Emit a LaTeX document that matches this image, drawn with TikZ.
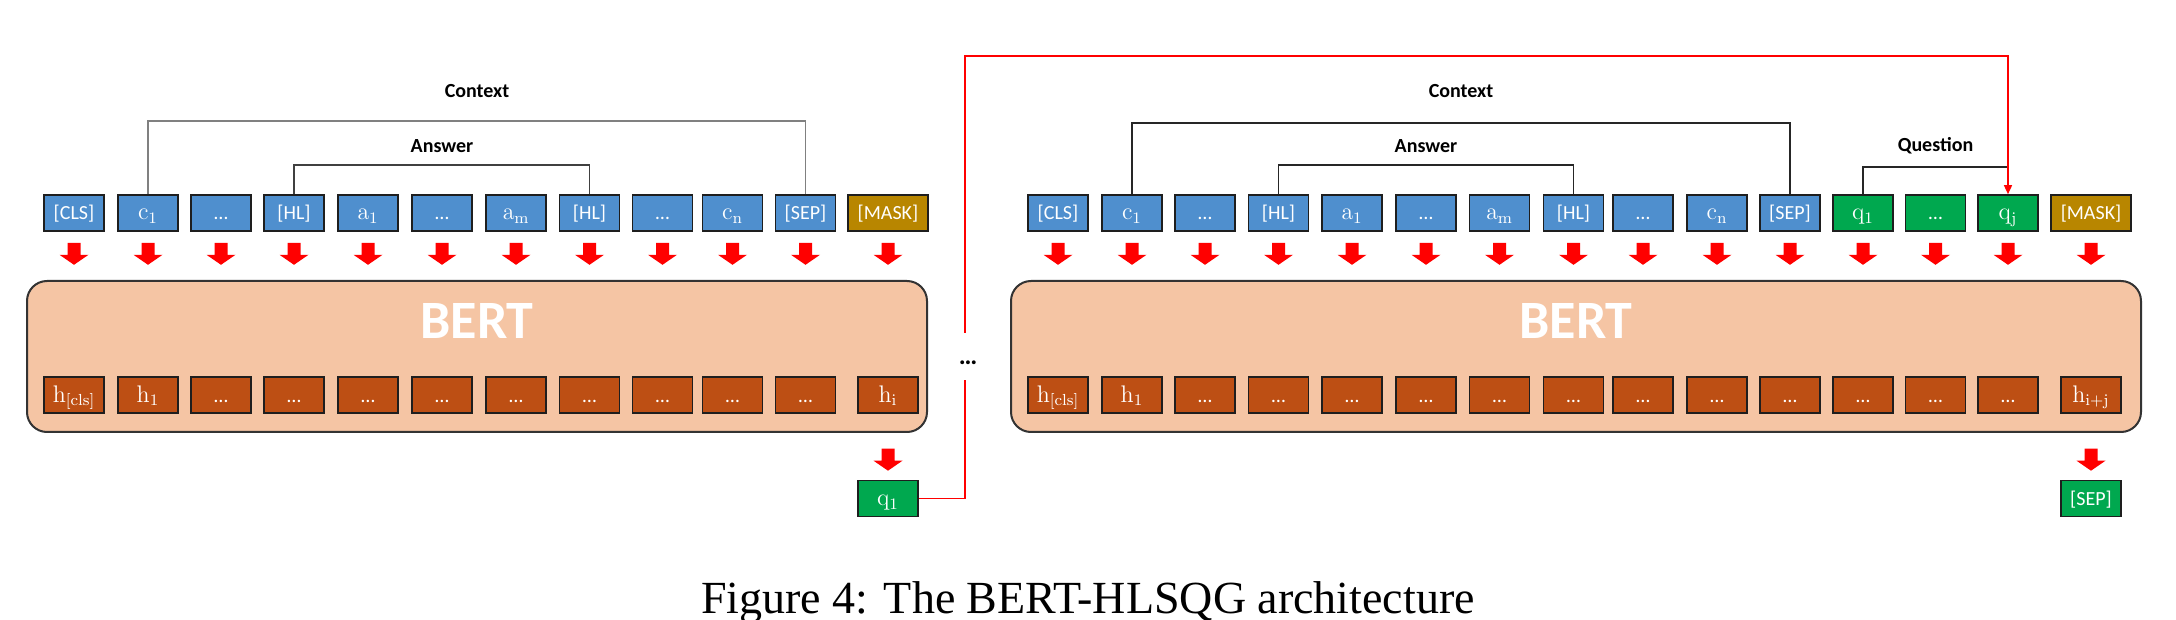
\documentclass[tikz,border=0pt]{standalone}
\usepackage[no-math]{fontspec}
\newfontfamily\calibri{Carlito}
\newfontfamily\timesf{Liberation Serif}
\usetikzlibrary{calc,arrows.meta}
\definecolor{tokblue}{HTML}{4F8FCE}
\definecolor{tokgreen}{HTML}{00A84F}
\definecolor{maskgold}{HTML}{B88600}
\definecolor{hbrown}{HTML}{BD4F14}
\definecolor{bertfill}{HTML}{F5C5A4}
\definecolor{bordc}{HTML}{1E1E1E}
\newcommand\mth[1]{{\fontsize{12}{14}\selectfont$#1$}}
\tikzset{
  tok/.style={draw=bordc, line width=0.8pt, minimum width=30pt, minimum height=18pt,
    inner sep=0pt, text=white, text height=9pt, text depth=2pt,
    font=\calibri\fontsize{10}{12}\selectfont},
  blu/.style={tok, fill=tokblue},
  grn/.style={tok, fill=tokgreen},
  gold/.style={tok, fill=maskgold, minimum width=40pt},
  hbox/.style={tok, fill=hbrown},
  bertbox/.style={draw=black!80, line width=1pt, fill=bertfill, rounded corners=10pt,
    minimum height=75.5pt, inner sep=0pt},
  berttxt/.style={text=white, font=\calibri\bfseries\fontsize{27}{30}\selectfont, inner sep=0pt},
  lbl/.style={font=\calibri\bfseries\fontsize{10}{12}\selectfont, inner sep=0pt},
  brk/.style={line width=0.75pt},
  redl/.style={red, line width=0.75pt},
  downarr/.pic={\fill[red] (-6.5,0) -- (6.5,0) -- (6.5,12) -- (14.5,12) -- (0,22) -- (-14.5,12) -- (-6.5,12) -- cycle;}
}
\begin{document}
\begin{tikzpicture}[x=0.5pt,y=-0.5pt]
\useasboundingbox (0,0) rectangle (2176,620);
% BERT boxes
\node[bertbox, minimum width=450pt] (LB) at (477,356.5) {};
\node[berttxt] (LBt) at (477,320.5) {BERT};
\node[bertbox, minimum width=565pt] (RB) at (1576,356.5) {};
\node[berttxt] (RBt) at (1576,320.5) {BERT};
% left tokens
\foreach \x/\t/\s [count=\i from 0] in {74/{[CLS]}/blu, 148/{\mth{\mathrm{c}_1}}/blu, 221/{…}/blu,
  294/{[HL]}/blu, 368/{\mth{\mathrm{a}_1}}/blu, 442/{…}/blu, 516/{\mth{\mathrm{a}_\mathrm{m}}}/blu,
  589.5/{[HL]}/blu, 662.5/{…}/blu, 732.5/{\mth{\mathrm{c}_\mathrm{n}}}/blu, 805.5/{[SEP]}/blu, 888/{[MASK]}/gold}
  {\node[\s] (L\i) at (\x,213) {\t};
   \pic at ($(L\i.south)+(0,11)$) {downarr};}
% left hidden states
\foreach \x/\t [count=\i from 0] in {74/{\mth{\mathrm{h}_{[\mathrm{cls}]}}}, 148/{\mth{\mathrm{h}_1}}, 221/{…},
  294/{…}, 368/{…}, 442/{…}, 516/{…}, 589.5/{…}, 662.5/{…}, 732.5/{…}, 805.5/{…}, 888/{\mth{\mathrm{h}_\mathrm{i}}}}
  {\node[hbox] (LH\i) at (\x,395) {\t};}
\node[grn] (Lq) at (888,498.5) {\mth{\mathrm{q}_1}};
\pic at ($(Lq.north)+(0,-31)$) {downarr};
% right tokens
\foreach \x/\t/\s [count=\i from 0] in {1058/{[CLS]}/blu, 1132/{\mth{\mathrm{c}_1}}/blu, 1205/{…}/blu,
  1278.5/{[HL]}/blu, 1352/{\mth{\mathrm{a}_1}}/blu, 1426/{…}/blu, 1499.5/{\mth{\mathrm{a}_\mathrm{m}}}/blu,
  1573.5/{[HL]}/blu, 1643/{…}/blu, 1717/{\mth{\mathrm{c}_\mathrm{n}}}/blu, 1790/{[SEP]}/blu,
  1863/{\mth{\mathrm{q}_1}}/grn, 1935.5/{…}/grn, 2008/{\mth{\mathrm{q}_\mathrm{j}}}/grn, 2091/{[MASK]}/gold}
  {\node[\s] (R\i) at (\x,213) {\t};
   \pic at ($(R\i.south)+(0,11)$) {downarr};}
% right hidden states
\foreach \x/\t [count=\i from 0] in {1058/{\mth{\mathrm{h}_{[\mathrm{cls}]}}}, 1132/{\mth{\mathrm{h}_1}}, 1205/{…},
  1278.5/{…}, 1352/{…}, 1426/{…}, 1499.5/{…}, 1573.5/{…}, 1643/{…}, 1717/{…}, 1790/{…},
  1863/{…}, 1935.5/{…}, 2008/{…}, 2091/{\mth{\mathrm{h}_{\mathrm{i+j}}}}}
  {\node[hbox] (RH\i) at (\x,395) {\t};}
\node[grn] (Rs) at (2091,498.5) {[SEP]};
\pic at ($(Rs.north)+(0,-31)$) {downarr};
% brackets left
\draw[brk, black!50] (L1.north) |- ($(L10.north)+(0,-73)$) -- (L10.north);
\node[lbl] (Lctx) at (477,91) {Context};
\draw[brk, black!75] (L3.north) |- ($(L7.north)+(0,-29)$) -- (L7.north);
\node[lbl] (Lans) at (442,146) {Answer};
% brackets right
\draw[brk, black!85] (R1.north) |- ($(R10.north)+(0,-71)$) -- (R10.north);
\node[lbl] (Rctx) at (1461,91) {Context};
\draw[brk, black!85] (R3.north) |- ($(R7.north)+(0,-29)$) -- (R7.north);
\node[lbl] (Rans) at (1426,146) {Answer};
\draw[brk, black!85] (R11.north) |- ($(R13.north)+(0,-27)$);
\node[lbl] (Rq) at (1935.5,146) {Question};
% red feedback connector
\coordinate (gb) at (965,380);
\coordinate (gt) at (965,333);
\draw[redl] (Lq.east) -| (gb);
\draw[redl, -{Triangle[length=4.5pt, width=4pt]}] (gt) |- ($(R13.north)+(0,-138)$) -- (R13.north);
\node[font=\calibri\bfseries\fontsize{13}{15}\selectfont, inner sep=0pt] (dots) at (968,363) {…};
% caption
\node[font=\timesf\fontsize{23}{26}\selectfont, anchor=base, inner sep=0pt] (cap) at (1088,613) {Figure 4: The BERT-HLSQG architecture};
\end{tikzpicture}
\end{document}
